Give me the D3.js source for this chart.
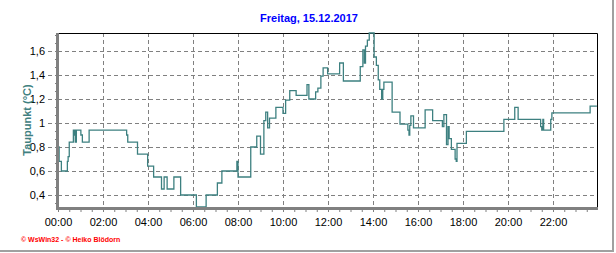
<!DOCTYPE html>
<html>
<head>
<meta charset="utf-8">
<script src="https://cdn.jsdelivr.net/npm/d3@7"></script>
<style>
	body { margin: 0; background: #fff; }
	svg { display: block; font-family: 'Liberation Sans', Arial, sans-serif; }
	.x.axis text, .y.axis text { font-size: 11px; fill: #000; }
</style>
</head>
<body>
<div id="chart"></div>
<script>
/* Data: minute of day and Taupunkt (°C), step values */
var minutes = [
	0, 3, 9, 25, 27, 30, 41, 43, 45, 46, 49, 61, 65, 83, 183, 186, 212, 239, 255, 276,
	283, 291, 309, 327, 369, 395, 425, 437, 477, 480, 514, 530, 540, 549, 554, 559, 564, 581, 600, 607,
	618, 635, 664, 669, 687, 693, 701, 707, 719, 751, 761, 806, 813, 817, 820, 825, 830, 843, 849, 854,
	858, 863, 866, 869, 891, 912, 933, 936, 938, 941, 948, 979, 999, 1025, 1029, 1036, 1040, 1043, 1049, 1059,
	1062, 1064, 1089, 1189, 1218, 1227, 1287, 1290, 1293, 1295, 1314, 1317, 1419, 1437
];
var taupunkt = [
	0.80, 0.68, 0.60, 0.68, 0.72, 0.84, 0.94, 0.90, 0.94, 0.84, 0.94, 0.90, 0.84, 0.94, 0.90, 0.84, 0.74, 0.64, 0.55, 0.45,
	0.55, 0.45, 0.55, 0.40, 0.30, 0.40, 0.50, 0.60, 0.68, 0.55, 0.80, 0.89, 0.74, 1.02, 1.09, 0.96, 1.04, 1.13, 1.08, 1.19,
	1.27, 1.23, 1.32, 1.20, 1.26, 1.29, 1.39, 1.46, 1.41, 1.50, 1.35, 1.47, 1.61, 1.50, 1.64, 1.69, 1.75, 1.55, 1.48, 1.36,
	1.28, 1.20, 1.28, 1.34, 1.09, 0.99, 0.94, 0.90, 0.98, 1.06, 0.96, 1.11, 1.02, 0.97, 1.07, 0.82, 0.97, 0.87, 0.78, 0.70,
	0.68, 0.83, 0.93, 1.03, 1.13, 1.03, 0.97, 0.94, 1.03, 0.94, 1.03, 1.085, 1.14, 1.14
];

var xTickLabels = ['00:00', '02:00', '04:00', '06:00', '08:00', '10:00', '12:00', '14:00', '16:00', '18:00', '20:00', '22:00'];
var yTicks = [0.4, 0.6, 0.8, 1.0, 1.2, 1.4, 1.6];
var yTickLabels = ['0,4', '0,6', '0,8', '1', '1,2', '1,4', '1,6'];

var title = 'Freitag, 15.12.2017';
var yTitle = 'Taupunkt  (°C)';
var credit = '\u00a9 WsWin32  -  \u00a9 Heiko Blödorn';

var width = 616;
var height = 253;
var plot = { left: 58, right: 598, top: 33, bottom: 207 };

var lineColor = '#3d8080';
var gridColor = '#808080';
var axisColor = '#808080';

var data = minutes.map((m, i) => ({ m: m, v: taupunkt[i] }));

/* Scale */
var xScale = d3.scaleLinear().domain([0, 1440]).range([plot.left, plot.right]);
var yScale = d3.scaleLinear().domain([0.3, 1.75]).range([plot.bottom, plot.top]);

var svg = d3
	.select('#chart')
	.append('svg')
	.attr('width', width)
	.attr('height', height);

svg.append('rect').attr('width', width).attr('height', height).attr('fill', '#fff');

/* outer frame (right and bottom only) */
svg.append('line')
	.attr('x1', 613).attr('x2', 613).attr('y1', 0).attr('y2', 252)
	.attr('stroke', '#a0a0a0').attr('stroke-width', 2);
svg.append('line')
	.attr('x1', 0).attr('x2', 614).attr('y1', 251).attr('y2', 251)
	.attr('stroke', '#a0a0a0').attr('stroke-width', 2);

/* Grid */
var grid = svg.append('g').attr('class', 'grid');
grid.selectAll('.vgrid')
	.data(d3.range(120, 1440, 120))
	.enter()
	.append('line')
	.attr('x1', d => Math.round(xScale(d)) + 0.5)
	.attr('x2', d => Math.round(xScale(d)) + 0.5)
	.attr('y1', plot.top)
	.attr('y2', plot.bottom)
	.attr('stroke', gridColor)
	.attr('stroke-dasharray', '4,3');
grid.selectAll('.hgrid')
	.data(yTicks)
	.enter()
	.append('line')
	.attr('x1', plot.left)
	.attr('x2', plot.right)
	.attr('y1', d => Math.round(yScale(d)) + 0.5)
	.attr('y2', d => Math.round(yScale(d)) + 0.5)
	.attr('stroke', gridColor)
	.attr('stroke-dasharray', '4,3');

/* top and right border */
svg.append('path')
	.attr('d', `M${plot.left},${plot.top + 0.5}H${plot.right - 0.5}V${plot.bottom}`)
	.attr('fill', 'none')
	.attr('stroke', '#000');

/* Line */
var line = d3
	.line()
	.x(d => xScale(d.m))
	.y(d => yScale(d.v))
	.curve(d3.curveStepAfter);

svg.append('path')
	.datum(data)
	.attr('class', 'line')
	.attr('d', line)
	.attr('fill', 'none')
	.attr('stroke', lineColor)
	.attr('stroke-width', 1.3);

/* Axis */
var xAxis = d3
	.axisBottom(xScale)
	.tickValues(d3.range(0, 1440, 30))
	.tickSize(4)
	.tickPadding(6)
	.tickFormat(d => (d % 120 === 0 ? xTickLabels[d / 120] : ''));

svg.append('g')
	.attr('class', 'x axis')
	.attr('transform', `translate(0, ${plot.bottom + 1})`)
	.call(xAxis)
	.call(g => g.select('.domain').remove())
	.call(g => g.selectAll('line').attr('stroke', axisColor));

var yAxis = d3
	.axisLeft(yScale)
	.tickValues(yTicks)
	.tickSize(4)
	.tickPadding(3)
	.tickFormat((d, i) => yTickLabels[i]);

svg.append('g')
	.attr('class', 'y axis')
	.attr('transform', 'translate(52, 0)')
	.call(yAxis)
	.call(g => g.select('.domain').remove())
	.call(g => g.selectAll('line').attr('stroke', axisColor));

/* minor ticks on the left axis */
svg.append('g')
	.selectAll('line')
	.data(d3.range(-1, 21).map(k => 0.4 + k * 0.2 / 3))
	.enter()
	.append('line')
	.attr('x1', plot.left - 3)
	.attr('x2', plot.left - 1)
	.attr('y1', d => Math.round(yScale(d)) + 0.5)
	.attr('y2', d => Math.round(yScale(d)) + 0.5)
	.attr('stroke', axisColor)
	.attr('opacity', d => (d >= 0.3 && d <= 1.75 ? 1 : 0));

/* thick axis lines */
svg.append('line')
	.attr('x1', plot.left - 0.5).attr('x2', plot.left - 0.5)
	.attr('y1', plot.top).attr('y2', plot.bottom + 3)
	.attr('stroke', axisColor).attr('stroke-width', 3);
svg.append('line')
	.attr('x1', plot.left - 2).attr('x2', plot.right)
	.attr('y1', plot.bottom + 1.5).attr('y2', plot.bottom + 1.5)
	.attr('stroke', axisColor).attr('stroke-width', 3);

/* Texts */
svg.append('text')
	.attr('x', 309)
	.attr('y', 22)
	.attr('text-anchor', 'middle')
	.style('font-size', '11px')
	.style('font-weight', 'bold')
	.attr('fill', '#0000ff')
	.text(title);

svg.append('text')
	.attr('transform', `translate(31, ${(plot.top + plot.bottom) / 2}) rotate(-90)`)
	.attr('text-anchor', 'middle')
	.style('font-size', '11px')
	.style('font-weight', 'bold')
	.attr('fill', '#408080')
	.text(yTitle);

svg.append('text')
	.attr('x', 21)
	.attr('y', 242)
	.style('font-size', '7px')
	.style('font-weight', 'bold')
	.attr('fill', '#ff0000')
	.text(credit);
</script>
</body>
</html>
